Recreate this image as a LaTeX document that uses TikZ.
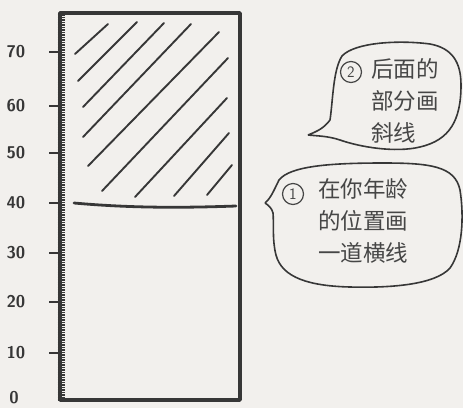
\documentclass[tikz,border=0pt]{standalone}
\usepackage{fontspec}
\newfontfamily\cjk{Noto Sans CJK SC}
\definecolor{bg}{RGB}{242,240,237}
\definecolor{ink}{RGB}{55,55,55}
\definecolor{txt}{RGB}{70,70,70}
\begin{document}
\begin{tikzpicture}[x=1pt,y=-1pt,
  frame/.style={draw=ink,line width=3.8pt,line join=round},
  hatch/.style={draw=ink,line width=1.9pt,line cap=round},
  ageline/.style={draw=ink,line width=2.8pt,line cap=round},
  bubble/.style={draw=ink,line width=1.6pt,line join=round},
  num/.style={font=\sffamily\bfseries\fontsize{17}{17}\selectfont,text=ink,inner sep=0pt},
  btext/.style={font=\cjk\fontsize{22.5}{32}\selectfont,text=txt,inner sep=0pt,align=left,anchor=north west},
  circ/.style={circle,draw=txt,line width=1.2pt,minimum size=21pt,inner sep=0pt,text=txt,font=\sffamily\fontsize{16}{16}\selectfont}]
\fill[bg] (0,0) rectangle (463,408);
\useasboundingbox (0,0) rectangle (463,408);
% minor ticks
\foreach \i in {0,...,154}{
  \draw[ink,line width=1.1pt] (57.5,{400-\i*2.5}) -- (65,{400-\i*2.5});
}
% frame
\coordinate (tl) at (60,13);
\coordinate (br) at (240,400);
\draw[frame] (tl) rectangle (br);
% major ticks and labels
\foreach \v/\y in {70/52,60/106,50/153,40/203,30/253,20/302,10/353}{
  \coordinate (t\v) at (49,\y);
  \coordinate (u\v) at (60,\y);
  \draw[ink,line width=1.8pt] (t\v) -- (u\v);
  \node[num] (l\v) at (16,\y) {\v};
}
\node[num] (l0) at (14,398) {0};
% age line at 40
\coordinate (a1) at (74,203);
\coordinate (a2) at (236,206);
\draw[ageline] (a1) .. controls (130,208) and (180,208) .. (a2);
% hatch lines
\foreach \n/\xa/\ya/\xb/\yb in {1/75/54/108/24, 2/78/81/137/22, 3/83/107/164/23, 4/83/137/191/24,
  5/88/166/219/32, 6/102/191/228/58, 7/135/197/227/98, 8/174/196/229/133, 9/207/195/232/165}{
  \coordinate (h\n a) at (\xa,\ya);
  \coordinate (h\n b) at (\xb,\yb);
  \draw[hatch] (h\n a) -- (h\n b);
}
% bubble 2 (top)
\coordinate (tip2) at (308,135);
\draw[bubble] (tip2) .. controls (318,131) and (324,128) .. (330,120)
  .. controls (333,100) and (333,70) .. (342,56)
  .. controls (355,42) and (400,40) .. (430,44)
  .. controls (452,48) and (461,62) .. (461,85)
  .. controls (461,120) and (450,140) .. (420,147)
  .. controls (395,153) and (360,147) .. (340,140)
  .. controls (328,136) and (318,136) .. (tip2);
\node[circ] (c2) at (351,72) {2};
\node[btext] (b2) at (371,58) {后面的\\部分画\\斜线};
% bubble 1 (bottom)
\coordinate (tip1) at (265,203);
\draw[bubble] (tip1) .. controls (271,198) and (274,190) .. (279,180)
  .. controls (290,166) and (330,163) .. (383,163)
  .. controls (430,163) and (455,166) .. (460,190)
  .. controls (464,215) and (463,250) .. (450,268)
  .. controls (435,285) and (390,288) .. (350,287)
  .. controls (310,286) and (282,278) .. (276,255)
  .. controls (272,240) and (274,222) .. (273,213)
  .. controls (272,208) and (268,205) .. (tip1);
\node[circ] (c1) at (293,194) {1};
\node[btext] (b1) at (318,178) {在你年龄\\的位置画\\一道横线};
\end{tikzpicture}
\end{document}
